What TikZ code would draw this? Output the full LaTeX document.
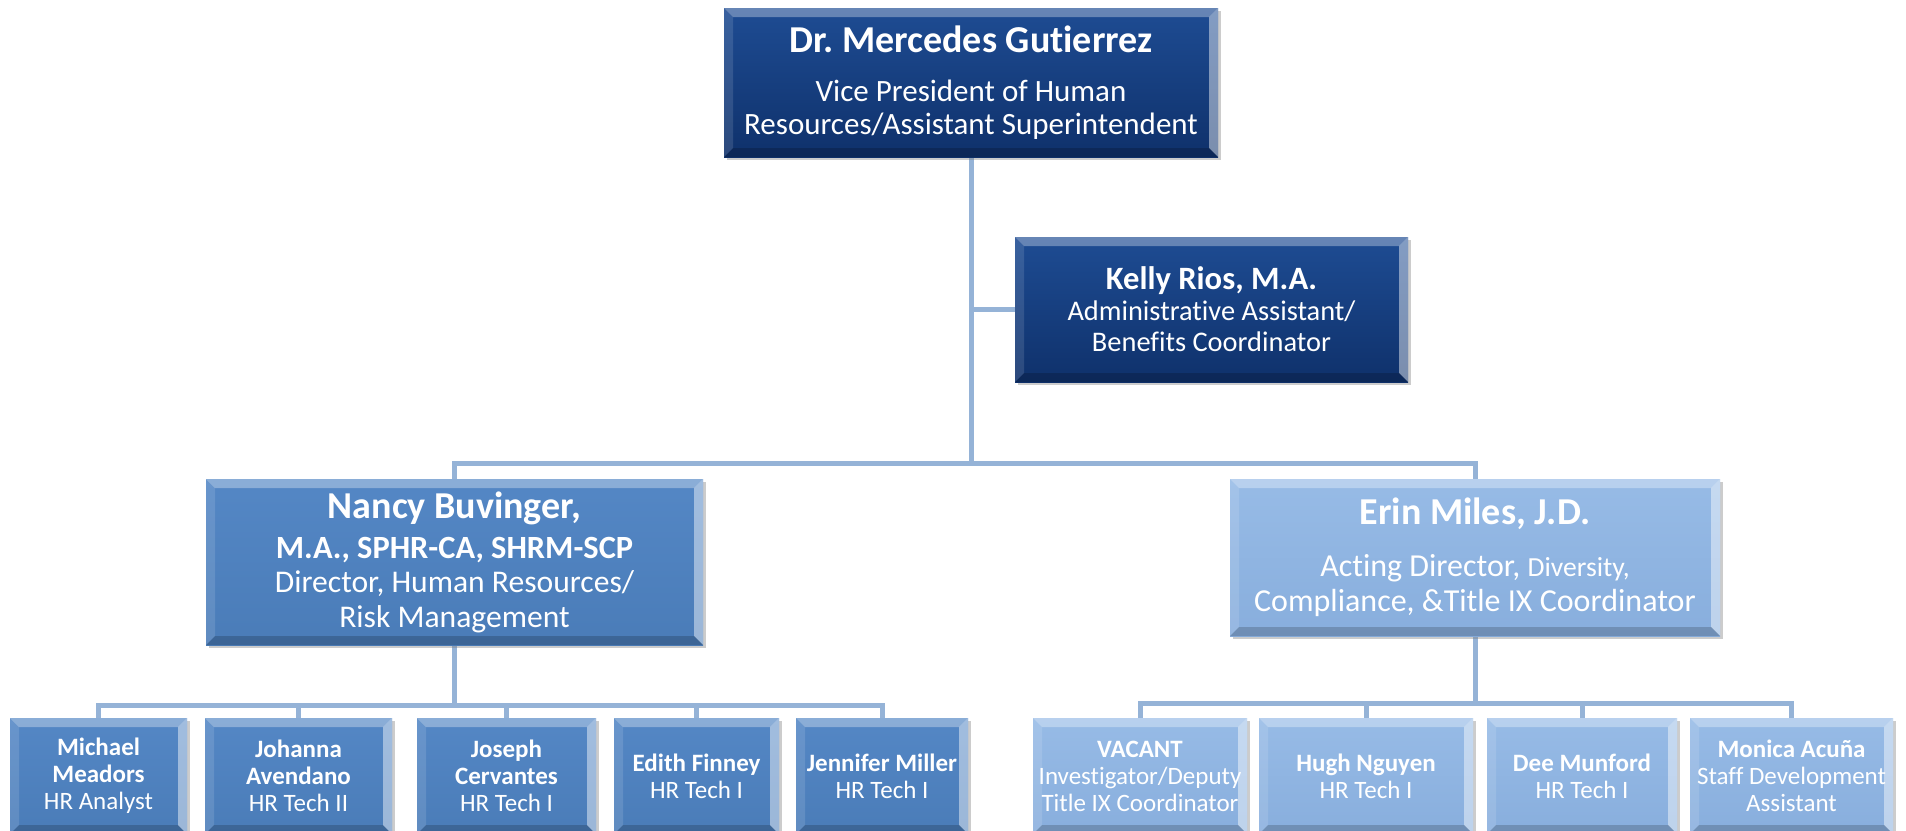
\documentclass[tikz,border=0pt]{standalone}
\usepackage{fontspec}
\setmainfont{Carlito}[Ligatures=NoCommon]
\frenchspacing
\usetikzlibrary{shadows,backgrounds}
\definecolor{navyT}{HTML}{1E4C93}
\definecolor{navyB}{HTML}{0F316B}
\definecolor{midT}{HTML}{5487C5}
\definecolor{midB}{HTML}{4A7CB8}
\definecolor{lightT}{HTML}{97BBE6}
\definecolor{lightB}{HTML}{88AEDD}
\definecolor{connc}{HTML}{95B3D7}
\newcommand\bevelpic{%
  \fill[white,opacity=.32] (path picture bounding box.north west) -- (path picture bounding box.north east) -- ([shift={(-4.5pt,-4.5pt)}]path picture bounding box.north east) -- ([shift={(4.5pt,-4.5pt)}]path picture bounding box.north west) -- cycle;
  \fill[white,opacity=.12] (path picture bounding box.north west) -- ([shift={(4.5pt,-4.5pt)}]path picture bounding box.north west) -- ([shift={(4.5pt,4.5pt)}]path picture bounding box.south west) -- (path picture bounding box.south west) -- cycle;
  \fill[white,opacity=.45] (path picture bounding box.north east) -- ([shift={(-4.5pt,-4.5pt)}]path picture bounding box.north east) -- ([shift={(-4.5pt,4.5pt)}]path picture bounding box.south east) -- (path picture bounding box.south east) -- cycle;
  \fill[black,opacity=.18] (path picture bounding box.south west) -- ([shift={(4.5pt,4.5pt)}]path picture bounding box.south west) -- ([shift={(-4.5pt,4.5pt)}]path picture bounding box.south east) -- (path picture bounding box.south east) -- cycle;
}
\tikzset{
  box/.style={draw=none, inner sep=0pt, align=center, text=white,
    drop shadow={opacity=.4, shadow xshift=1.5pt, shadow yshift=-1.5pt},
    path picture={\bevelpic}},
  navybox/.style={box, top color=navyT, bottom color=navyB},
  midbox/.style={box, top color=midT, bottom color=midB},
  lightbox/.style={box, top color=lightT, bottom color=lightB},
  smallbox/.style={minimum height=58pt, font=\fontsize{12.5}{13.5}\selectfont},
  conn/.style={draw=connc, line width=2.5pt},
}
\begin{document}
\begin{tikzpicture}[x=0.5pt,y=-0.5pt]
\useasboundingbox (0,0) rectangle (1906,830);
\clip (0,0) rectangle (1906,830);

\node[navybox, minimum width=247pt, minimum height=74.5pt, font=\fontsize{15.5}{16.5}\selectfont] (top) at (971,82.5)
  {{\fontsize{19}{20}\selectfont\bfseries Dr. Mercedes Gutierrez}\\[8pt] Vice President of Human\\ Resources/Assistant Superintendent};

\node[navybox, minimum width=196.5pt, minimum height=72.5pt, font=\fontsize{14.2}{15.5}\selectfont] (kelly) at (1211.5,309.5)
  {{\fontsize{16.3}{17}\selectfont\bfseries Kelly Rios, M.A.}\\ Administrative Assistant/\\ Benefits Coordinator};

\node[midbox, minimum width=248.5pt, minimum height=83pt, font=\fontsize{15.8}{17.3}\selectfont] (nancy) at (454.5,562)
  {{\fontsize{19}{20}\selectfont\bfseries Nancy Buvinger,}\\[2.7pt] {\fontsize{16.2}{17}\selectfont\bfseries M.A., SPHR-CA, SHRM-SCP}\\ Director, Human Resources/\\ Risk Management};

\node[lightbox, minimum width=245pt, minimum height=78.5pt, font=\fontsize{16}{17.5}\selectfont] (erin) at (1475,557.5)
  {{\fontsize{19}{20}\selectfont\bfseries Erin Miles, J.D.}\\[8.5pt] Acting Director, {\fontsize{13.8}{15}\selectfont Diversity,}\\ Compliance, \&Title IX Coordinator};

\node[midbox, smallbox, minimum width=88.5pt] (michael) at (98.5,776) {\textbf{Michael}\\ \textbf{Meadors}\\ HR Analyst};
\node[midbox, smallbox, minimum width=93.5pt] (johanna) at (298.5,776) {\textbf{Johanna}\\ \textbf{Avendano}\\ HR Tech II};
\node[midbox, smallbox, minimum width=89.5pt] (joseph) at (506.5,776) {\textbf{Joseph}\\ \textbf{Cervantes}\\ HR Tech I};
\node[midbox, smallbox, minimum width=82.5pt] (edith) at (696.5,776) {\textbf{Edith Finney}\\ HR Tech I};
\node[midbox, smallbox, minimum width=86pt] (jennifer) at (882,776) {\textbf{Jennifer Miller}\\ HR Tech I};

\node[lightbox, smallbox, minimum width=107pt] (vacant) at (1140,776) {\textbf{VACANT}\\ Investigator/Deputy\\ Title IX Coordinator};
\node[lightbox, smallbox, minimum width=107pt] (hugh) at (1366,776) {\textbf{Hugh Nguyen}\\ HR Tech I};
\node[lightbox, smallbox, minimum width=95pt] (dee) at (1582,776) {\textbf{Dee Munford}\\ HR Tech I};
\node[lightbox, smallbox, minimum width=101.5pt] (monica) at (1791.5,776) {\textbf{Monica Acuña}\\ Staff Development\\ Assistant};

\coordinate (jTop) at (971,463);
\coordinate (jK) at (971,309.5);
\coordinate (jL) at (454.5,705);
\coordinate (jR) at (1475,703);

\begin{scope}[on background layer]
\draw[conn] (top.south) -- (jTop);
\draw[conn] (jK) -- (kelly.west);
\draw[conn] (jTop) -| (nancy.north);
\draw[conn] (jTop) -| (erin.north);
\draw[conn] (nancy.south) -- (jL);
\foreach \n in {michael,johanna,joseph,edith,jennifer} \draw[conn] (jL) -| (\n.north);
\draw[conn] (erin.south) -- (jR);
\foreach \n in {vacant,hugh,dee,monica} \draw[conn] (jR) -| (\n.north);
\end{scope}
\end{tikzpicture}
\end{document}
